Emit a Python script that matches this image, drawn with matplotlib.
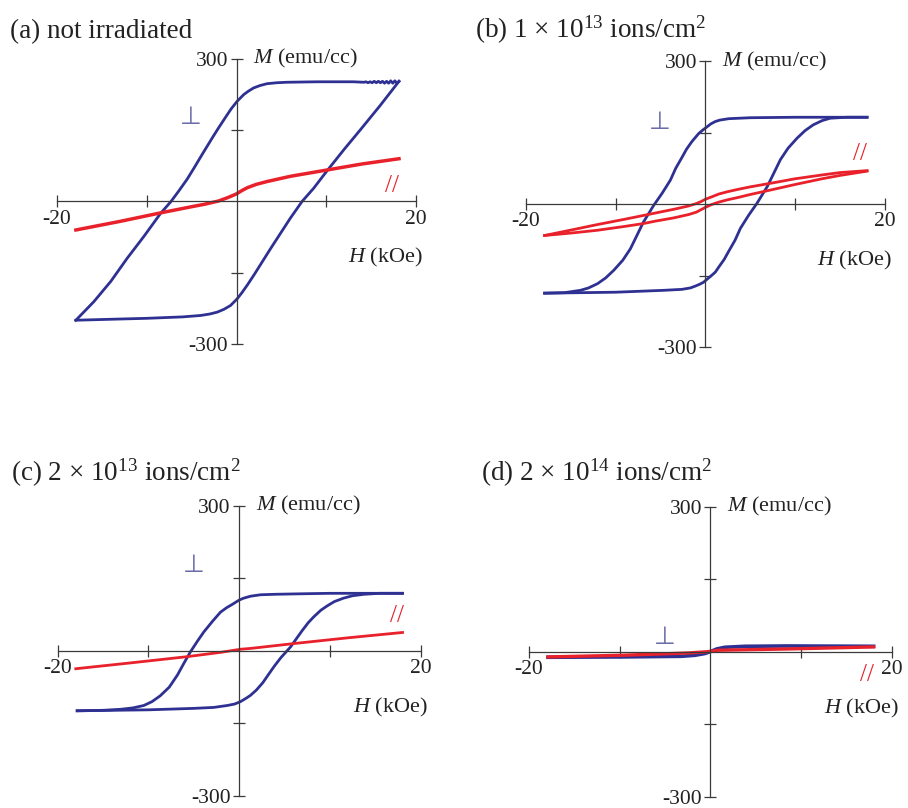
import matplotlib
matplotlib.use("Agg")
import matplotlib.pyplot as plt

BLUE = "#2E3192"
RED = "#E8212B"
PERP = "#6B6BA8"
AXIS = "#3A3A3A"
TEXT = "#222222"

plt.rcParams["font.family"] = ["Liberation Serif", "DejaVu Serif"]
plt.rcParams["mathtext.fontset"] = "custom"
plt.rcParams["mathtext.rm"] = "Liberation Serif"
plt.rcParams["mathtext.it"] = "Liberation Serif:italic"

# (a) not irradiated -- perpendicular loop (descending / ascending branch), parallel curve
a_perp_down_h = [18.1, 17.87, 17.64, 17.41, 17.18, 16.95, 16.72, 16.49, 16.26, 16.03, 15.8, 15.57,
                 15.34, 15.11, 14.88, 14.65, 14.42, 14.2, 13.0, 9.0, 5.6, 4.5, 3.4, 2.6, 1.9, 1.3,
                 0.8, 0.07, -0.6, -1.2, -2.0, -2.7, -3.8, -4.75, -5.5, -6.4, -7.3, -8.46, -10.3,
                 -12.2, -14.0, -15.9, -17.9]
a_perp_down_m = [253, 249, 254, 249, 254, 249, 253, 249, 253, 250, 253, 250, 253, 250, 252, 250,
                 252, 251, 252, 252, 251, 250, 248, 244, 239, 232, 225, 211, 195, 178, 155, 134,
                 100, 70, 47, 23, 0, -25, -73, -120, -168, -211, -250]
a_perp_up_h = [-17.9, -14.0, -10.0, -6.0, -4.0, -3.0, -2.15, -1.4, -0.67, 0.07, 0.6, 1.2, 2.0,
               2.7, 3.8, 4.9, 6.0, 7.3, 8.6, 10.1, 12.0, 13.8, 16.0, 18.1]
a_perp_up_m = [-250, -248, -246, -243, -240, -237, -233, -227, -219, -205, -192, -176, -153,
               -132, -99, -67, -35, 0, 28, 65, 110, 151, 202, 253]
a_par_h = [-17.9, -13.0, -8.46, -5.0, -3.6, -2.0, -1.0, 0.0, 0.6, 1.2, 2.2, 3.4, 6.0, 10.3,
           14.0, 18.1]
a_par_m = [-60, -42, -24, -11, -6, 1, 8, 16, 23, 29, 36, 42, 53, 67, 79, 90]

# (b) 1e13 ions/cm2
b_perp_down_h = [18.0, 10.0, 5.0, 2.6, 1.6, 1.1, 0.6, 0.19, -0.3, -0.74, -1.5, -2.1, -2.6, -3.3,
                 -3.9, -4.8, -5.76, -6.9, -7.6, -8.35, -9.2, -10.2, -11.1, -12.0, -13.0, -13.9,
                 -15.7, -17.9]
b_perp_down_m = [182, 182, 181, 179, 176, 173, 168, 162, 155, 148, 131, 115, 98, 75, 50, 23, -3,
                 -38, -65, -94, -118, -139, -155, -167, -176, -181, -186, -187]
b_perp_up_h = [-17.9, -10.0, -4.6, -2.6, -1.67, -1.1, -0.6, -0.2, 0.3, 0.74, 1.1, 1.5, 2.1, 2.6,
               3.3, 3.9, 4.8, 5.76, 6.9, 7.6, 8.35, 9.2, 10.2, 11.1, 12.0, 13.0, 13.9, 15.7, 18.0]
b_perp_up_m = [-187, -185, -181, -179, -176, -172, -168, -164, -156, -149, -143, -132, -116, -99,
               -76, -51, -24, 2, 37, 64, 93, 117, 138, 154, 166, 175, 180, 182, 182]
b_par_down_h = [18.0, 15.0, 13.0, 10.0, 7.4, 5.0, 3.7, 2.5, 1.5, 0.7, 0.0, -0.5, -1.0, -1.85,
                -3.5, -5.6, -6.9, -9.0, -12.0, -14.8, -17.9]
b_par_down_m = [70, 66, 61, 53, 44, 36, 31, 26, 21, 15, 10, 5, 1, -4, -11, -19, -24, -32, -43,
                -54, -66]
b_par_up_h = [-17.9, -15.0, -12.0, -9.0, -6.9, -5.6, -3.5, -1.85, -1.0, -0.5, 0.0, 0.7, 1.5, 2.5,
              3.7, 5.0, 7.4, 10.0, 13.0, 15.0, 18.0]
b_par_up_m = [-66, -61, -55, -47, -41, -36, -29, -22, -17, -12, -7, -1, 4, 9, 14, 20, 30, 41,
              53, 60, 69]

# (c) 2e13 ions/cm2
c_perp_down_h = [18.0, 10.0, 6.8, 4.0, 2.35, 1.25, 0.5, 0.0, -0.77, -1.4, -2.06, -2.9, -3.9,
                 -4.6, -5.37, -6.1, -6.8, -7.7, -8.7, -9.6, -10.5, -11.7, -13.1, -15.0, -17.85]
c_perp_down_m = [119, 119, 118, 117, 116, 113, 109, 105, 96, 89, 80, 62, 39, 20, -2, -26, -50,
                 -75, -93, -105, -113, -118, -121, -123, -124]
c_perp_up_h = [-17.85, -10.0, -5.0, -2.8, -1.3, -0.5, 0.15, 0.77, 1.25, 1.9, 2.6, 3.3, 3.9, 4.6,
               5.66, 6.3, 6.95, 7.6, 8.2, 9.0, 9.7, 10.5, 11.5, 12.5, 13.75, 15.5, 18.0]
c_perp_up_m = [-124, -122, -119, -117, -113, -110, -105, -98, -92, -81, -66, -47, -31, -14, 8,
               25, 42, 58, 70, 84, 93, 102, 109, 114, 117, 119, 119]
c_par_h = [-18.0, -12.0, -5.9, -2.0, 0.15, 1.25, 6.0, 12.0, 18.0]
c_par_m = [-37, -25, -12.4, -3, 3.3, 5, 15, 27, 38]

# (d) 2e14 ions/cm2
d_perp_h = [-17.9, -9.8, -3.2, -1.7, -0.6, 0.0, 0.7, 1.6, 3.8, 8.6, 18.0]
d_perp_m = [-11.7, -11, -9.7, -7.6, -4, 0, 5.5, 9, 11, 11.7, 11]
d_par_h = [-17.9, -9.8, -2.4, -0.2, 0.9, 8.6, 18.0]
d_par_m = [-11, -7.6, -2.8, 0, 2.8, 5.5, 9.7]

titles = [
    "(a) not irradiated",
    r"(b) 1 × 10$^{13}$ ions/cm$^{2}$",
    r"(c) 2 × 10$^{13}$ ions/cm$^{2}$",
    r"(d) 2 × 10$^{14}$ ions/cm$^{2}$",
]
# title anchors in pixels from the top-left corner (left edge, baseline)
title_px = [(10, 38), (475, 38), (11, 481), (481, 481)]

W, H = 908, 808
fig = plt.figure(figsize=(W / 100, H / 100), dpi=100)
boxes = [
    [0.0628, 0.5743, 0.3954, 0.3527],
    [0.5790, 0.5705, 0.3957, 0.3540],
    [0.0635, 0.0150, 0.3998, 0.3590],
    [0.5826, 0.0141, 0.3995, 0.3589],
]
axes = [fig.add_axes(b) for b in boxes]


def hysteresis_axes(ax, perp_pos, par_pos):
    ax.set_xlim(-20, 20)
    ax.set_ylim(-300, 300)
    for s in ["top", "right"]:
        ax.spines[s].set_visible(False)
    for s in ["left", "bottom"]:
        ax.spines[s].set_position(("data", 0))
        ax.spines[s].set_color(AXIS)
        ax.spines[s].set_linewidth(0.9)
    ax.set_xticks([-20, -10, 10, 20])
    ax.set_xticklabels(["-20", "", "", "20"])
    ax.set_yticks([-300, -150, 150, 300])
    ax.set_yticklabels(["-300", "", "", "300"])
    ax.tick_params(direction="inout", length=8, width=0.9, color=AXIS,
                   labelsize=15.5, labelcolor=TEXT, pad=2)
    ax.set_facecolor("none")
    ax.text(1.8, 300, r"$M$ (emu/cc)", fontsize=16, color=TEXT, va="center", ha="left")
    ax.text(20.8, -118, r"$H$ (kOe)", fontsize=16, color=TEXT, va="center", ha="right")
    ax.text(perp_pos[0], perp_pos[1], "⊥", fontsize=18, color=PERP, ha="center", va="center",
            family=["DejaVu Sans"])
    ax.text(par_pos[0], par_pos[1], "//", fontsize=18, color=RED, ha="center", va="center")


lw = 2.0
ax = axes[0]
ax.plot(a_perp_down_h, a_perp_down_m, color=BLUE, lw=lw)
ax.plot(a_perp_up_h, a_perp_up_m, color=BLUE, lw=lw)
ax.plot(a_par_h, a_par_m, color=RED, lw=lw + 0.5)
hysteresis_axes(ax, (-5.1, 178), (17.3, 33))

ax = axes[1]
ax.plot(b_perp_down_h, b_perp_down_m, color=BLUE, lw=lw)
ax.plot(b_perp_up_h, b_perp_up_m, color=BLUE, lw=lw)
ax.plot(b_par_down_h, b_par_down_m, color=RED, lw=lw)
ax.plot(b_par_up_h, b_par_up_m, color=RED, lw=lw)
hysteresis_axes(ax, (-5.1, 173), (17.2, 105))

ax = axes[2]
ax.plot(c_perp_down_h, c_perp_down_m, color=BLUE, lw=lw)
ax.plot(c_perp_up_h, c_perp_up_m, color=BLUE, lw=lw)
ax.plot(c_par_h, c_par_m, color=RED, lw=lw)
hysteresis_axes(ax, (-5.0, 178), (17.4, 73))

ax = axes[3]
ax.plot(d_perp_h, d_perp_m, color=BLUE, lw=lw + 0.6)
ax.plot(d_par_h, d_par_m, color=RED, lw=lw + 0.4)
hysteresis_axes(ax, (-5.0, 30), (17.3, -48))

for t, (px, py) in zip(titles, title_px):
    fig.text(px / W, 1 - py / H, t, fontsize=19.5, color=TEXT, ha="left", va="baseline")

fig.savefig("out.png", dpi=100, facecolor="white")
